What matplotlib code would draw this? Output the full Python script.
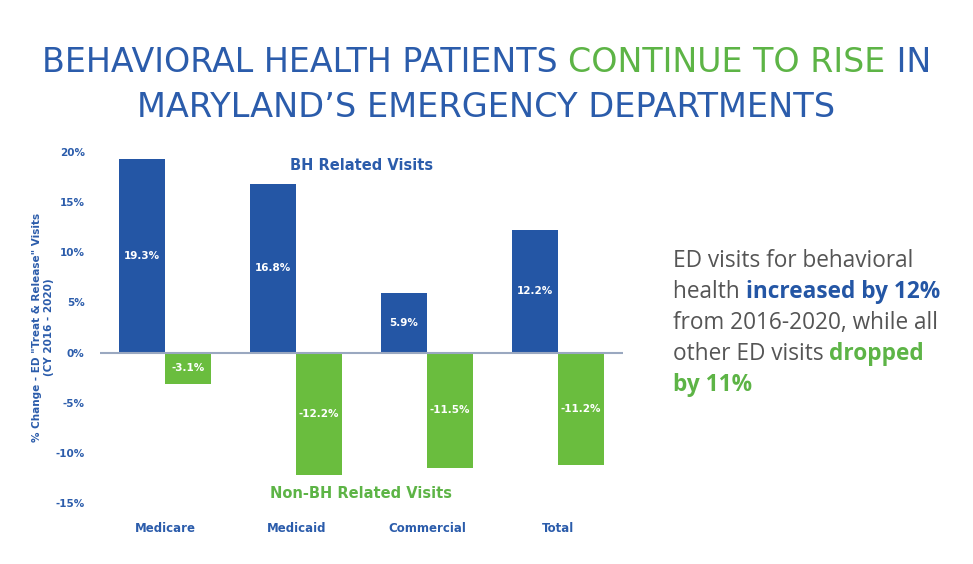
import matplotlib
matplotlib.use("Agg")
import matplotlib.pyplot as plt
import numpy as np

categories = ["Medicare", "Medicaid", "Commercial", "Total"]
bh_visits = [19.3, 16.8, 5.9, 12.2]
non_bh_visits = [-3.1, -12.2, -11.5, -11.2]
y_ticks = [20, 15, 10, 5, 0, -5, -10, -15]

BLUE = "#2456A5"
GREEN = "#6ABD3E"
TITLE_BLUE = "#2B5CAB"
TITLE_GREEN = "#5DB446"
GRAY = "#555555"


def draw_line(fig, x, y, parts, ha="left", width=None, **kw):
    # draw colored text pieces one after another on one line
    # if width (pixels) is given, the font size is scaled so the line fills it
    renderer = fig.canvas.get_renderer()
    texts = []
    for s, color, weight in parts:
        t = fig.text(0, y, s, color=color, fontweight=weight, va="baseline", **kw)
        texts.append(t)
    if width is not None:
        cur = sum(t.get_window_extent(renderer).width for t in texts)
        for t in texts:
            t.set_fontsize(t.get_fontsize() * width / cur)
    widths = [t.get_window_extent(renderer).width / fig.bbox.width for t in texts]
    total = sum(widths)
    start = x - total / 2 if ha == "center" else x
    for t, w in zip(texts, widths):
        t.set_x(start)
        start += w


fig = plt.figure(figsize=(9.73, 5.64), dpi=100)
ax = fig.add_axes([100 / 973, 61 / 564, 523 / 973, 351 / 564])

x = np.arange(len(categories))
w = 0.352
b1 = ax.bar(x - w / 2, bh_visits, w, color=BLUE)
b2 = ax.bar(x + w / 2, non_bh_visits, w, color=GREEN)

for bars, vals in [(b1, bh_visits), (b2, non_bh_visits)]:
    for r, v in zip(bars, vals):
        ax.text(r.get_x() + r.get_width() / 2, v / 2, f"{v:.1f}%", ha="center", va="center",
                color="white", fontsize=7.5, fontweight="bold")

ax.axhline(0, color="#9AA8C0", lw=1.5, zorder=3)
ax.set_xlim(-0.5, 3.5)
ax.set_ylim(-15, 20)
ax.set_yticks(y_ticks)
ax.set_yticklabels([f"{t}%" for t in y_ticks])
ax.set_xticks(x)
ax.set_xticklabels(categories)
for s in ax.spines.values():
    s.set_visible(False)
ax.tick_params(length=0)
ax.tick_params(axis="y", pad=11, labelsize=7.5, labelcolor=TITLE_BLUE)
ax.tick_params(axis="x", pad=14, labelsize=8.5, labelcolor=TITLE_BLUE)
for lab in ax.get_xticklabels() + ax.get_yticklabels():
    lab.set_fontweight("bold")

ax.text(1.5, 18.7, "BH Related Visits", ha="center", va="center", color=TITLE_BLUE,
        fontsize=10.5, fontweight="bold")
ax.text(1.5, -14.1, "Non-BH Related Visits", ha="center", va="center", color=TITLE_GREEN,
        fontsize=10.5, fontweight="bold")

fig.text(43 / 973, 0.42, "% Change - ED \"Treat & Release\" Visits\n(CY 2016 - 2020)",
         rotation=90, ha="center", va="center", ma="center", color=TITLE_BLUE,
         fontsize=7.5, fontweight="bold")

# title
title_font = dict(fontsize=30, family=["Liberation Sans Narrow", "DejaVu Sans"])
draw_line(fig, 0.5, 1 - 72 / 564,
          [("BEHAVIORAL HEALTH PATIENTS ", TITLE_BLUE, "normal"),
           ("CONTINUE TO RISE", TITLE_GREEN, "normal"),
           (" IN", TITLE_BLUE, "normal")], ha="center", width=890, **title_font)
draw_line(fig, 0.5, 1 - 117 / 564,
          [("MARYLAND\u2019S EMERGENCY DEPARTMENTS", TITLE_BLUE, "normal")],
          ha="center", width=700, **title_font)

# side note
side_font = dict(fontsize=16.3, family=["Open Sans", "DejaVu Sans"])
side_lines = [
    [("ED visits for behavioral", GRAY, "normal")],
    [("health ", GRAY, "normal"), ("increased by 12%", BLUE, "bold")],
    [("from 2016-2020, while all", GRAY, "normal")],
    [("other ED visits ", GRAY, "normal"), ("dropped", TITLE_GREEN, "bold")],
    [("by 11%", TITLE_GREEN, "bold")],
]
for i, parts in enumerate(side_lines):
    draw_line(fig, 673 / 973, 1 - (267 + 31 * i) / 564, parts, **side_font)

fig.savefig("out.png", dpi=100)
